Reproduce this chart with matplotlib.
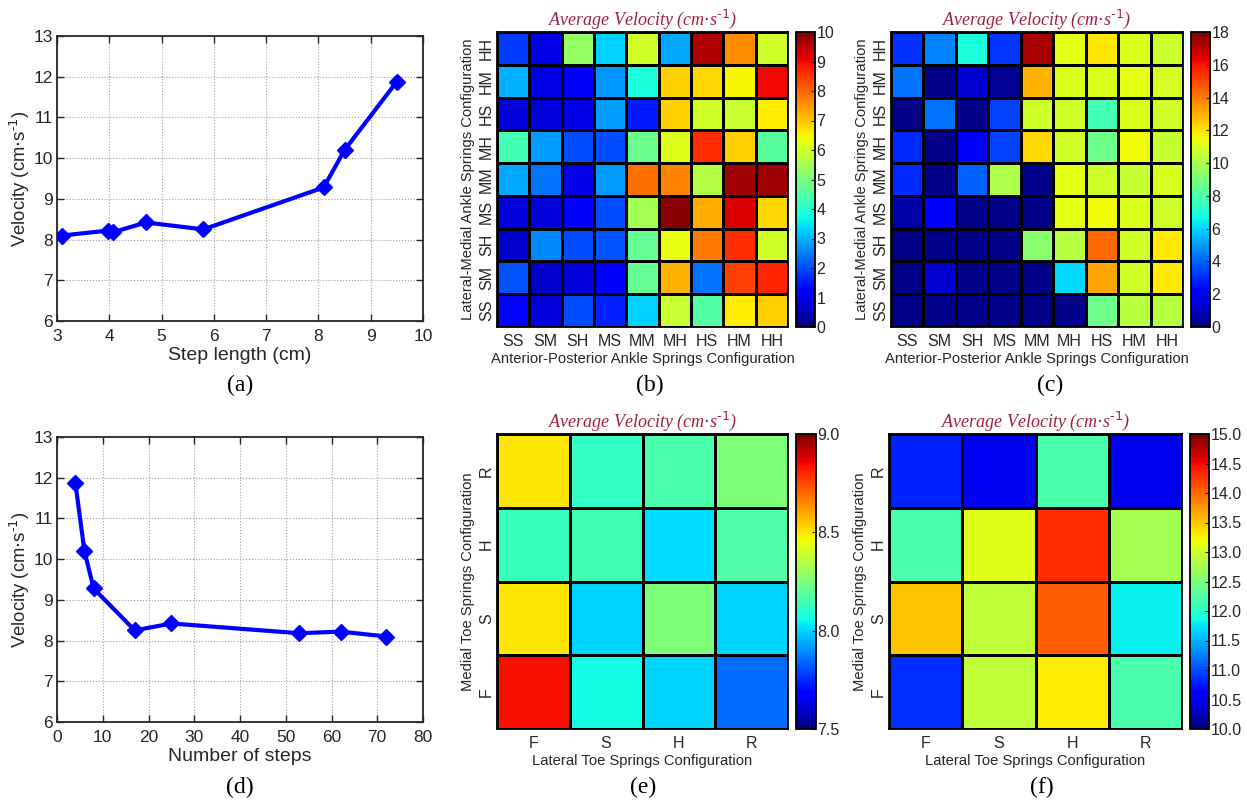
import numpy as np
import matplotlib
matplotlib.use("Agg")
import matplotlib.pyplot as plt

# ----- data -----
step_length = [3.1, 3.97, 4.07, 4.7, 5.8, 8.1, 8.5, 9.5]
velocity_a = [8.1, 8.22, 8.18, 8.42, 8.25, 9.28, 10.2, 11.88]

n_steps = [4, 6, 8, 17, 25, 53, 62, 72]
velocity_d = [11.88, 10.2, 9.28, 8.25, 8.42, 8.18, 8.22, 8.1]

ankle_labels = ["SS", "SM", "SH", "MS", "MM", "MH", "HS", "HM", "HH"]
toe_labels = ["F", "S", "H", "R"]

# rows listed from SS (bottom) to HH (top), columns SS..HH
ankle_b = [
    [1.25, 0.8, 2.0, 1.6, 3.3, 5.9, 4.5, 6.6, 6.9],   # SS
    [2.1, 0.7, 0.8, 1.1, 4.7, 7.2, 2.4, 8.4, 8.7],    # SM
    [0.7, 2.6, 2.0, 2.1, 4.7, 6.3, 7.8, 8.6, 6.0],    # SH
    [0.8, 0.8, 1.1, 2.0, 5.5, 9.9, 7.3, 9.2, 6.8],    # MS
    [2.9, 2.4, 0.9, 2.8, 7.9, 7.7, 5.7, 9.7, 9.7],    # MM
    [4.3, 2.8, 2.0, 2.0, 4.8, 6.2, 8.6, 6.9, 4.6],    # MH
    [0.8, 0.8, 0.9, 2.8, 1.5, 6.9, 6.0, 5.9, 6.6],    # HS
    [3.0, 0.9, 1.1, 2.7, 3.8, 6.9, 6.8, 6.5, 9.0],    # HM
    [1.8, 0.9, 5.3, 3.3, 6.0, 2.9, 9.6, 7.6, 6.0],    # HH
]

ankle_c = [
    [0.2, 0.2, 0.2, 0.2, 0.2, 0.2, 8.7, 10.3, 10.3],      # SS
    [0.2, 1.3, 0.2, 0.2, 0.2, 6.1, 13.2, 10.8, 11.9],     # SM
    [0.2, 0.2, 0.2, 0.2, 9.3, 10.3, 14.4, 10.8, 11.9],    # SH
    [0.7, 2.1, 0.2, 0.2, 0.2, 11.3, 11.6, 11.1, 10.8],    # MS
    [3.0, 0.2, 4.0, 10.1, 0.2, 11.3, 10.8, 10.6, 11.0],   # MM
    [3.0, 0.2, 2.1, 3.4, 12.3, 10.8, 8.7, 11.6, 10.6],    # MH
    [0.2, 4.3, 0.2, 3.4, 10.8, 10.8, 7.8, 11.1, 10.8],    # HS
    [4.3, 0.2, 1.3, 0.3, 13.0, 11.1, 11.1, 11.3, 10.9],   # HM
    [3.1, 4.5, 6.9, 3.2, 17.3, 11.3, 12.0, 11.1, 10.7],   # HH
]

# rows F (bottom) .. R (top), columns F..R
toe_e = [
    [8.84, 8.06, 8.0, 7.85],   # F
    [8.5, 8.0, 8.25, 8.0],     # S
    [8.13, 8.15, 8.01, 8.17],  # H
    [8.5, 8.12, 8.16, 8.25],   # R
]

toe_f = [
    [10.85, 12.9, 13.3, 12.2],  # F
    [13.5, 12.9, 14.05, 11.8],  # S
    [12.2, 13.1, 14.3, 12.75],  # H
    [10.8, 10.5, 12.2, 10.5],   # R
]

W, H = 1247, 806
fig = plt.figure(figsize=(W / 100, H / 100), dpi=100)
plt.rcParams["font.family"] = ["Liberation Sans", "DejaVu Sans"]

TITLE_COLOR = "#A3203D"
SERIF = ["Liberation Serif", "DejaVu Serif"]
TXT = "#262626"


def px_axes(x0, y0, x1, y1):
    return fig.add_axes([x0 / W, 1 - y1 / H, (x1 - x0) / W, (y1 - y0) / H])


def line_panel(box, x, y, xlim, xticks, xlabel, tag, tag_y):
    ax = px_axes(*box)
    ax.plot(x, y, color="#0000FF", lw=3, marker="D", ms=8.5, zorder=3)
    ax.set_xlim(*xlim)
    ax.set_ylim(6, 13)
    ax.set_xticks(xticks)
    ax.set_yticks(range(6, 14))
    ax.grid(True, linestyle=":", color="#A0A0A0", lw=0.8)
    ax.tick_params(direction="in", top=True, right=True, labelsize=12.5,
                   length=5, width=1, colors=TXT)
    ax.tick_params(axis="x", pad=6)
    ax.tick_params(axis="y", pad=3)
    for s in ax.spines.values():
        s.set_linewidth(1.3)
        s.set_color(TXT)
    ax.set_xlabel(xlabel, fontsize=14, labelpad=2, color=TXT)
    ax.set_ylabel("Velocity (cm$\\cdot$s$^{\\text{-}1}$)", fontsize=13.3,
                  labelpad=1, color=TXT)
    fig.text(240 / W, 1 - tag_y / H, tag, family=SERIF, fontsize=17,
             ha="center", va="center")
    return ax


def heat_panel(box, cbox, data, labels, vmin, vmax, cticks, cfmt,
               xlabel, ylabel, tag, tag_xy):
    ax = px_axes(*box)
    arr = np.array(data)
    n = arr.shape[0]
    mesh = ax.pcolormesh(np.arange(n + 1), np.arange(n + 1), arr, cmap="jet",
                         vmin=vmin, vmax=vmax, edgecolors="k", linewidth=1)
    ax.set_xlim(0, n)
    ax.set_ylim(0, n)
    ax.set_xticks(np.arange(n) + 0.5)
    ax.set_yticks(np.arange(n) + 0.5)
    ax.set_xticklabels(labels, fontsize=11.5)
    ax.set_yticklabels(labels, fontsize=11.5, rotation=90, va="center")
    ax.tick_params(length=0, pad=5, colors=TXT)
    ax.tick_params(axis="y", pad=2)
    for s in ax.spines.values():
        s.set_linewidth(1.3)
    ax.set_xlabel(xlabel, fontsize=10.6, labelpad=2, color=TXT)
    ax.set_ylabel(ylabel, fontsize=10.6, labelpad=3, color=TXT)
    ax.set_title("Average Velocity (cm$\\cdot$s$^{\\mathit{\\text{-}1}}$)",
                 family=SERIF, style="italic", fontsize=13,
                 color=TITLE_COLOR, pad=5)
    cax = px_axes(*cbox)
    cb = fig.colorbar(mesh, cax=cax, ticks=cticks)
    cb.ax.set_yticklabels([cfmt.format(t) for t in cticks])
    cb.ax.tick_params(labelsize=11.5, direction="in", length=3, pad=1,
                      colors=TXT)
    cb.outline.set_linewidth(1.3)
    fig.text(tag_xy[0] / W, 1 - tag_xy[1] / H, tag, family=SERIF,
             fontsize=17, ha="center", va="center")


line_panel((57, 36, 423, 321), step_length, velocity_a, (3, 10),
           range(3, 11), "Step length (cm)", "(a)", 385)
line_panel((57, 437, 423, 722), n_steps, velocity_d, (0, 80),
           range(0, 81, 10), "Number of steps", "(d)", 787)

heat_panel((497, 32, 788, 327), (796, 32, 815, 327), ankle_b, ankle_labels,
           0, 10, list(range(0, 11)), "{:d}",
           "Anterior-Posterior Ankle Springs Configuration",
           "Lateral-Medial Ankle Springs Configuration", "(b)", (650, 385))
heat_panel((891, 32, 1183, 327), (1191, 32, 1210, 327), ankle_c, ankle_labels,
           0, 18, list(range(0, 19, 2)), "{:d}",
           "Anterior-Posterior Ankle Springs Configuration",
           "Lateral-Medial Ankle Springs Configuration", "(c)", (1050, 385))
heat_panel((497, 434, 788, 729), (796, 434, 816, 729), toe_e, toe_labels,
           7.5, 9.0, [7.5, 8.0, 8.5, 9.0], "{:.1f}",
           "Lateral Toe Springs Configuration",
           "Medial Toe Springs Configuration", "(e)", (643, 787))
heat_panel((889, 434, 1182, 729), (1190, 434, 1209, 729), toe_f, toe_labels,
           10, 15, list(np.arange(10, 15.01, 0.5)), "{:.1f}",
           "Lateral Toe Springs Configuration",
           "Medial Toe Springs Configuration", "(f)", (1042, 787))

fig.savefig("out.png", dpi=100)
